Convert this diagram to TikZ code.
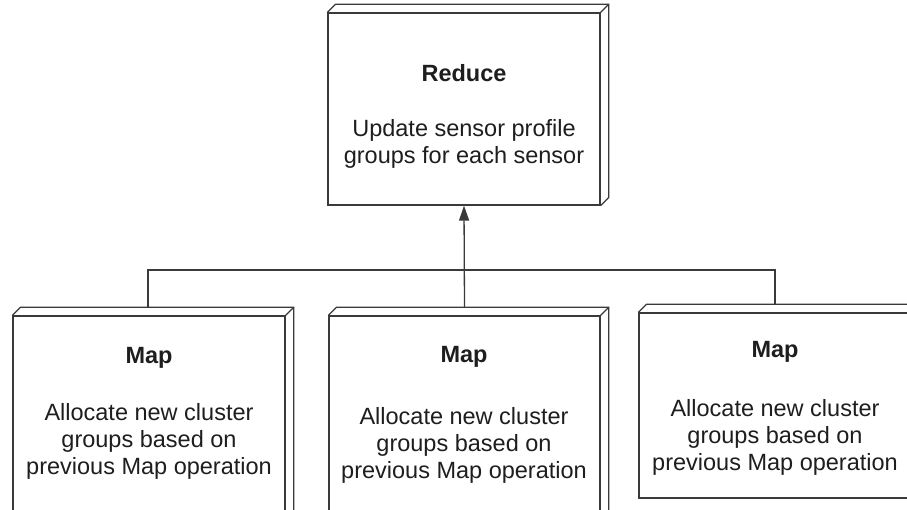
\documentclass[tikz,border=0pt]{standalone}
\usepackage{fontspec}
\setmainfont{Liberation Sans}
\usetikzlibrary{arrows.meta}

\definecolor{edge}{HTML}{3A3A3A}
\definecolor{ink}{HTML}{1E1E1E}

\tikzset{
  front/.style={draw=edge, line width=1.3pt, fill=white, inner sep=0pt},
  depthline/.style={draw=edge, line width=1.3pt, line join=miter},
  title/.style={text=ink, inner sep=0pt, font=\fontsize{23.5}{27}\selectfont\bfseries},
  body/.style={text=ink, inner sep=0pt, align=center, font=\fontsize{23.5}{27}\selectfont},
  link/.style={draw=edge, line width=1.3pt},
  headtip/.style={-{Triangle[length=15pt,width=10pt]}},
}

% 3D extrusion (top face and right face) behind a box node
\newcommand{\extrude}[2]{%
  \draw[depthline] (#1.south east) -- ++(#2,#2) -- ([shift={(#2,#2)}]#1.north east)
    -- ([shift={(#2,#2)}]#1.north west) -- (#1.north west);
  \draw[depthline] (#1.north east) -- ++(#2,#2);
}

\begin{document}
\begin{tikzpicture}[x=1pt,y=1pt]
  \useasboundingbox (0,0) rectangle (907,510);
  \clip (0,0) rectangle (907,510);
  \fill[white] (0,0) rectangle (907,510);

  % reduce box
  \node[front, minimum width=272pt, minimum height=192pt] (reduce) at (464,401) {};
  \extrude{reduce}{8}
  \node[title] (reducetitle) at (464,437) {Reduce};
  \node[body] (reducebody) at (464,366.5) {Update sensor profile\\groups for each sensor};

  % map boxes
  \node[front, minimum width=272pt, minimum height=220pt] (mapa) at (149,84) {};
  \extrude{mapa}{8}
  \node[title] (mapatitle) at (149,152) {Map};
  \node[body] (mapabody) at (149,69) {Allocate new cluster\\groups based on\\previous Map operation};

  \node[front, minimum width=271pt, minimum height=220pt] (mapb) at (464.5,84) {};
  \extrude{mapb}{8}
  \node[title] (mapbtitle) at (464,153) {Map};
  \node[body] (mapbbody) at (464,65) {Allocate new cluster\\groups based on\\previous Map operation};

  \node[front, minimum width=272pt, minimum height=185pt] (mapc) at (775,104.5) {};
  \extrude{mapc}{8}
  \node[title] (mapctitle) at (775,158) {Map};
  \node[body] (mapcbody) at (775,73) {Allocate new cluster\\groups based on\\previous Map operation};

  % connectors
  \coordinate (joint) at (464,240);
  \draw[link] ([yshift=8pt]mapa.north -| 148,0) |- (joint) -| ([yshift=8pt]mapc.north -| 775,0);
  \draw[link, headtip] ([yshift=8pt]mapb.north) -- (reduce.south);
\end{tikzpicture}
\end{document}
